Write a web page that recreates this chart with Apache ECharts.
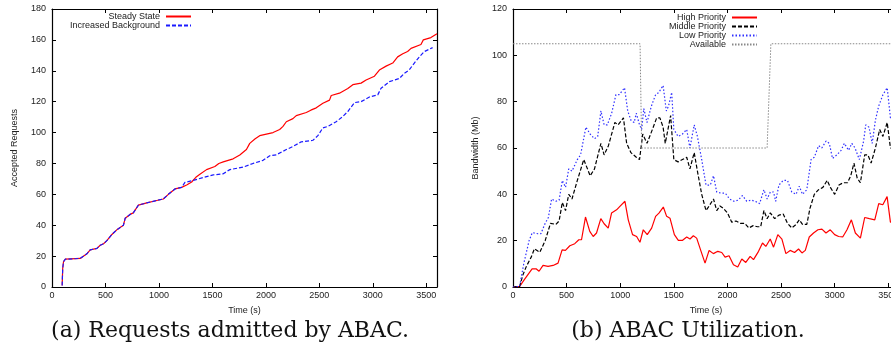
<!DOCTYPE html>
<html>
<head>
<meta charset="utf-8">
<script src="https://cdn.jsdelivr.net/npm/echarts@6/dist/echarts.min.js"></script>
<style>
  html, body { margin: 0; padding: 0; background: #fff; overflow: hidden; }
  #chart { width: 910px; height: 353px; }
</style>
</head>
<body>
<div id="chart"></div>
<script>
// (a) accepted requests, [time, count]
const commonRamp = [[95,1],[100,12],[108,16.5],[125,18],[264,18.5],[280,19],[326,21.5],[357,24],[420,25],[451,27],[482,28],[513,30],[560,34],[606,37],[668,40],[684,44.5],[730,47],[760,48],[808,53],[886,54.5],[979,56],[1041,57],[1088,60],[1150,63.5],[1212,64.5]]
const steadyTail = [[1259,66],[1306,68],[1345,71],[1383,73],[1445,76],[1523,78],[1560,80],[1601,81],[1694,83],[1756,85.5],[1818,89],[1849,93],[1900,96],[1942,98],[2067,100],[2129,102],[2160,104],[2191,107],[2253,109],[2284,111],[2378,113],[2420,114.5],[2471,116],[2533,119],[2595,121],[2611,124],[2688,125.5],[2766,128.5],[2813,131],[2890,132],[2937,134],[3015,136.5],[3061,140.5],[3124,143],[3186,145],[3232,149],[3280,151],[3325,152.5],[3357,154.5],[3450,157],[3472,160],[3543,161.5],[3600,164]]
const backgroundTail = [[1243,67.7],[1321,69],[1445,71.5],[1508,72.6],[1601,73.3],[1663,76],[1787,77.6],[1880,80],[1973,82],[2036,85],[2098,85.6],[2191,89],[2253,91],[2331,94],[2440,95],[2486,98],[2533,103],[2580,104],[2657,107],[2719,110.4],[2766,113.6],[2829,119.4],[2890,120],[2968,123],[3046,124.4],[3077,128.7],[3155,133],[3248,135],[3295,138.4],[3341,140.6],[3388,145],[3435,149],[3481,152.4],[3559,155]]

// (b) bandwidth per priority, [time, Mb]
const highPriority = [[0,0],[62,0.3],[109,3.4],[178,7.8],[218,7.8],[243,6.8],[280,9.3],[327,8.9],[374,9.3],[420,10.3],[458,16],[489,15.8],[530,17.8],[576,18.7],[614,20.4],[639,20.4],[676,30.2],[716,24],[748,21.8],[779,23.3],[819,29.5],[850,27.3],[888,25.4],[919,31.9],[966,33.3],[997,34.8],[1044,37],[1075,29],[1115,22.6],[1153,21.8],[1184,19.3],[1215,24.7],[1252,22.6],[1293,25.4],[1330,30.5],[1361,31.9],[1402,34.5],[1433,30.5],[1464,29.7],[1505,22.6],[1542,20.1],[1579,20.1],[1620,21.6],[1651,20.7],[1682,22.1],[1713,21.1],[1754,15.4],[1791,10.3],[1829,15.8],[1869,14.4],[1910,15.4],[1947,14.9],[1978,12.9],[2015,13.5],[2056,9.6],[2096,8.6],[2134,12.1],[2171,10.6],[2212,13.2],[2243,11.8],[2290,15.4],[2327,19],[2358,17.5],[2399,20.7],[2430,17.2],[2470,22.6],[2508,20.7],[2545,14.4],[2585,15.8],[2626,14.9],[2663,16.4],[2695,14.7],[2726,15.8],[2763,21.6],[2803,23.3],[2844,24.7],[2881,25],[2919,23.3],[2959,24.7],[3000,22.6],[3037,21.8],[3075,21.6],[3115,24.7],[3156,29],[3193,23.3],[3240,21.1],[3280,30],[3324,29.5],[3374,29],[3411,36],[3449,35.5],[3489,39],[3520,28],[3600,28]]
const middlePriority = [[0,0],[62,0.3],[93,5.3],[125,8.9],[171,13],[200,16.5],[250,15],[300,20],[350,27.5],[400,27],[430,28.5],[460,36.5],[490,33],[520,40],[550,38],[600,46],[660,55],[720,48],[760,51],[820,62],[850,57],[890,61],[950,71],[980,70],[1030,73],[1060,62],[1100,58],[1150,56],[1180,55],[1210,66],[1250,62],[1300,68],[1340,73],[1370,73],[1400,69],[1420,62],[1470,74],[1500,55],[1540,54],[1580,55],[1620,56],[1650,51],[1690,58],[1720,50],[1760,40],[1800,33],[1830,35],[1870,38],[1900,33],[1930,35],[1960,34],[2000,32],[2040,28],[2080,28.5],[2120,27.5],[2160,27.5],[2200,25.5],[2240,26.5],[2280,26],[2310,26],[2340,33],[2370,29.5],[2400,32],[2440,29.5],[2480,31],[2520,31.5],[2560,27.5],[2600,25.5],[2640,27],[2670,29],[2700,27],[2740,27],[2770,34],[2810,40],[2850,42],[2890,43],[2930,46],[2960,43],[3000,40],[3040,44],[3080,45],[3120,45],[3150,48],[3180,53.5],[3210,47],[3240,45],[3280,57],[3310,57],[3340,53.5],[3380,60],[3420,68],[3450,65],[3490,71],[3520,60],[3600,60]]
const lowPriority = [[0,0],[62,0.3],[100,10],[150,20],[180,23.5],[230,23],[260,23],[300,27.5],[330,30],[360,38],[400,37],[430,37.5],[460,46],[490,43],[520,51],[550,50],[600,55],[630,57],[680,69],[720,66],[760,64],[790,65],[820,76],[850,70],[880,70],[920,75],[960,83],[990,83],[1040,86],[1070,76],[1100,72],[1130,71],[1150,75],[1180,70],[1200,68],[1220,77],[1250,71],[1290,78],[1330,83],[1360,84],[1400,87],[1430,76],[1450,78],[1480,84],[1500,68],[1540,65],[1580,66],[1620,68],[1650,60],[1690,70],[1720,65],[1760,55],[1800,44],[1840,44],[1870,48],[1900,41],[1940,40.5],[1980,40.5],[2020,38],[2060,37],[2100,37.5],[2140,39.5],[2180,37],[2220,37.5],[2260,37],[2300,36],[2340,42],[2370,38],[2400,41],[2430,41],[2450,37],[2480,44],[2520,46],[2560,46],[2600,41],[2640,40],[2670,43.5],[2700,40],[2740,42],[2780,55],[2810,56],[2850,61],[2880,60],[2920,63],[2950,62],[2980,55.5],[3020,57],[3060,59],[3090,62],[3130,59],[3160,62],[3190,60],[3230,55],[3270,63],[3290,70],[3320,69],[3350,62],[3380,72],[3410,78],[3450,83],[3490,86],[3520,73],[3600,73]]
const available = [[0,105],[1185,105],[1200,60],[2370,60],[2405,105],[3600,105]]

const W = 910
const font = 'Liberation Sans, Arial, sans-serif'
const labelStyle = { color: '#222', fontSize: 9, fontFamily: font, formatter: v => String(v) }

function xAx(grid, pos, name) {
  return {
    type: 'value', gridIndex: grid, position: pos, min: 0, max: 3600, interval: 500,
    name: name, nameLocation: 'middle', nameGap: 19,
    nameTextStyle: { color: '#222', fontSize: 9, fontFamily: font },
    axisLine: { onZero: false, lineStyle: { color: '#000', width: 1.2 } },
    axisTick: { inside: true, length: 4, lineStyle: { color: '#000' } },
    axisLabel: pos === 'bottom' ? Object.assign({ margin: 4, showMaxLabel: false }, labelStyle) : { show: false },
    splitLine: { show: false }
  }
}
function yAx(grid, pos, max, name) {
  return {
    type: 'value', gridIndex: grid, position: pos, min: 0, max: max, interval: 20,
    name: name, nameLocation: 'middle', nameGap: 33,
    nameTextStyle: { color: '#222', fontSize: 9, fontFamily: font },
    axisLine: { onZero: false, lineStyle: { color: '#000', width: 1.2 } },
    axisTick: { inside: true, length: 4, lineStyle: { color: '#000' } },
    axisLabel: pos === 'left' ? Object.assign({ margin: 6 }, labelStyle) : { show: false },
    splitLine: { show: false }
  }
}
function line(name, data, xi, yi, color, type, width) {
  return {
    name: name, type: 'line', data: data, xAxisIndex: xi, yAxisIndex: yi,
    symbol: 'none', animation: false,
    lineStyle: { color: color, width: width || 1.2, type: type },
    itemStyle: { color: color }
  }
}
function leg(name, right, top) {
  return {
    data: [name], right: right, top: top, orient: 'vertical', align: 'right',
    itemWidth: 25, itemHeight: 8, padding: 0, itemGap: 0, selectedMode: false,
    itemStyle: { opacity: 0 },
    textStyle: { color: '#222', fontSize: 9, fontFamily: font, padding: [0, 1, 0, 0] }
  }
}

const chart = echarts.init(document.getElementById('chart'))
chart.setOption({
  animation: false,
  grid: [
    { left: 52, top: 9, width: 385, height: 278 },
    { left: 513, top: 9, width: 386, height: 278 }
  ],
  xAxis: [xAx(0, 'bottom', 'Time (s)'), xAx(0, 'top', ''), xAx(1, 'bottom', 'Time (s)'), xAx(1, 'top', '')],
  yAxis: [yAx(0, 'left', 180, 'Accepted Requests'), yAx(0, 'right', 180, ''), yAx(1, 'left', 120, 'Bandwidth (Mb)'), yAx(1, 'right', 120, '')],
  legend: [
    leg('Steady State', W - 192, 12),
    leg('Increased Background', W - 192, 21),
    leg('High Priority', W - 758, 13),
    leg('Middle Priority', W - 758, 22),
    leg('Low Priority', W - 758, 31),
    leg('Available', W - 758, 40)
  ],
  series: [
    line('Steady State', commonRamp.concat(steadyTail), 0, 0, '#ff0000', 'solid'),
    line('Increased Background', commonRamp.concat(backgroundTail), 0, 0, '#1a1aff', [4, 2]),
    line('High Priority', highPriority, 2, 2, '#ff0000', 'solid'),
    line('Middle Priority', middlePriority, 2, 2, '#000000', [4, 2]),
    line('Low Priority', lowPriority, 2, 2, '#3030ff', [1.5, 2]),
    line('Available', available, 2, 2, '#888888', [1.5, 1.5], 1)
  ],
  graphic: [
    { type: 'text', x: 230, y: 331, style: { text: '(a) Requests admitted by ABAC.', font: '22px "DejaVu Serif", serif', fill: '#111', textAlign: 'center', textVerticalAlign: 'middle' } },
    { type: 'text', x: 688, y: 331, style: { text: '(b) ABAC Utilization.', font: '22px "DejaVu Serif", serif', fill: '#111', textAlign: 'center', textVerticalAlign: 'middle' } }
  ]
})
</script>
</body>
</html>
